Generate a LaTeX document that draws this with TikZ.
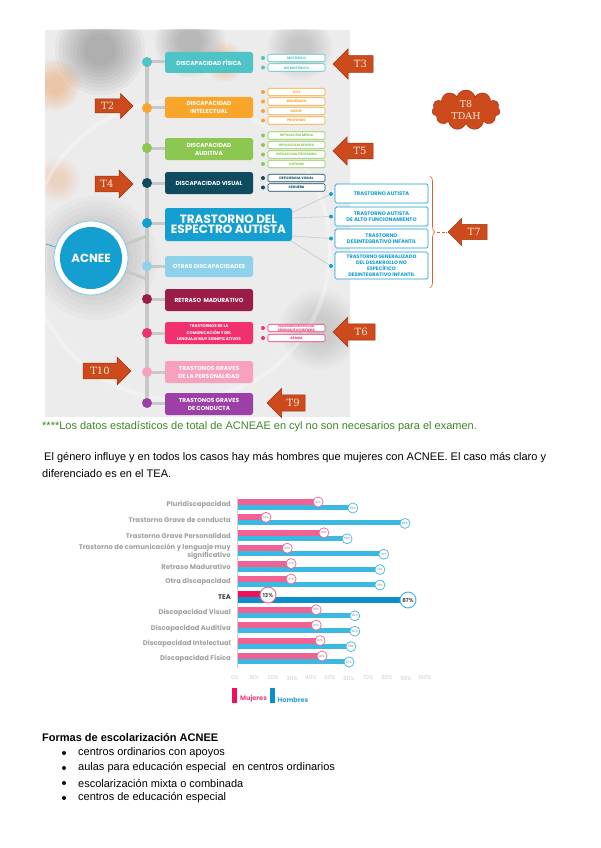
\documentclass[tikz,border=0pt]{standalone}
\usepackage{fontspec}
\setmainfont{Liberation Sans}
\newfontfamily\pop{Poppins}
\newfontfamily\slab{DejaVu Serif}
\usetikzlibrary{shapes.symbols,decorations.pathreplacing}
\pgfdeclarelayer{photo}
\pgfdeclarelayer{lines}
\pgfsetlayers{photo,lines,main}
\definecolor{bgphoto}{RGB}{236,236,236}
\definecolor{blobdark}{RGB}{60,60,60}
\definecolor{bloborange}{RGB}{235,130,40}
\definecolor{cF}{RGB}{78,196,198}
\definecolor{cI}{RGB}{248,165,42}
\definecolor{cA}{RGB}{140,199,81}
\definecolor{cV}{RGB}{14,75,95}
\definecolor{cT}{RGB}{21,158,208}
\definecolor{cO}{RGB}{142,209,234}
\definecolor{cR}{RGB}{155,29,71}
\definecolor{cC}{RGB}{242,48,109}
\definecolor{cP}{RGB}{247,161,191}
\definecolor{cK}{RGB}{156,63,166}
\definecolor{linegray}{RGB}{200,200,200}
\definecolor{callfill}{RGB}{204,74,27}
\definecolor{calledge}{RGB}{160,50,15}
\definecolor{calltext}{RGB}{250,235,215}
\definecolor{braceor}{RGB}{226,92,45}
\definecolor{mypink}{RGB}{240,98,146}
\definecolor{myblue}{RGB}{59,185,227}
\definecolor{teapink}{RGB}{240,16,90}
\definecolor{teablue}{RGB}{10,143,200}
\definecolor{labgray}{RGB}{160,160,160}
\definecolor{notegreen}{RGB}{60,135,40}
\tikzset{
  mbox/.style={rounded corners=2.5pt, minimum width=88pt, inner sep=0pt, text=white, align=center,
    font=\pop\bfseries\fontsize{5.8}{8}\selectfont},
  dot/.style={circle, inner sep=0pt, minimum size=10pt},
  subdot/.style={circle, inner sep=0pt, minimum size=4pt},
  subbox/.style={rounded corners=1.2pt, fill=white, line width=0.6pt, minimum width=57pt, minimum height=7.5pt,
    inner sep=0pt, align=center, font=\pop\bfseries\fontsize{3.4}{3.8}\selectfont},
  teabox/.style={rounded corners=1.5pt, fill=white, draw=cT, line width=0.7pt, minimum width=93pt,
    inner sep=0pt, align=center, text=cT, font=\pop\bfseries\fontsize{5.2}{6.3}\selectfont},
  conn/.style={linegray, line width=3pt},
  timeline/.style={linegray, line width=3.5pt},
  thinconn/.style={linegray, line width=0.6pt},
  callout/.style={fill=callfill, draw=calledge, line width=0.5pt},
  calltxt/.style={text=calltext, font=\slab\fontsize{10}{11}\selectfont, inner sep=0pt},
  pcirc/.style={circle, draw=mypink, fill=white, line width=0.7pt, minimum size=10pt, inner sep=0pt,
    text=gray, font=\pop\fontsize{3}{3}\selectfont},
  bcirc/.style={circle, draw=myblue, fill=white, line width=0.7pt, minimum size=10pt, inner sep=0pt,
    text=gray, font=\pop\fontsize{3}{3}\selectfont},
  clabel/.style={text=labgray, align=right, inner sep=0pt, font=\pop\bfseries\fontsize{6.8}{7.8}\selectfont},
  axlab/.style={text=gray!40, inner sep=0pt, font=\pop\fontsize{5.5}{6}\selectfont},
  body/.style={inner sep=0pt, anchor=west, font=\fontsize{11}{13}\selectfont}
}
\newcommand\rcall[6]{%
  \pgfmathsetmacro\hb{#5*0.28}\pgfmathsetmacro\hh{#5*0.5}\pgfmathsetmacro\xh{#3-#5*0.5}%
  \filldraw[callout] (#2,#4-\hb) -- (\xh,#4-\hb) -- (\xh,#4-\hh) -- (#3,#4) -- (\xh,#4+\hh) -- (\xh,#4+\hb) -- (#2,#4+\hb) -- cycle;
  \node[calltxt] (#1) at ({(#2+\xh)/2},#4) {#6};}
\newcommand\lcall[6]{%
  \pgfmathsetmacro\hb{#5*0.28}\pgfmathsetmacro\hh{#5*0.5}\pgfmathsetmacro\xh{#2+#5*0.5}%
  \filldraw[callout] (#3,#4-\hb) -- (\xh,#4-\hb) -- (\xh,#4-\hh) -- (#2,#4) -- (\xh,#4+\hh) -- (\xh,#4+\hb) -- (#3,#4+\hb) -- cycle;
  \node[calltxt] (#1) at ({(#3+\xh)/2},#4) {#6};}
\newcommand\subbx[4]{%
  \node[subdot, fill=#2] (#1d) at (263,#3) {};
  \node[subbox, draw=#2, text=#2] (#1) at (296.5,#3) {#4};}
% soft blob: x, y, radius, colour, opacity per layer
\newcommand\blob[5]{%
  \foreach \s in {1,0.92,0.84,0.76,0.68,0.6,0.52,0.44,0.36}{\fill[#4, opacity=#5] (#1,#2) circle ({#3*\s});}}
\begin{document}
\begin{tikzpicture}[x=1pt,y=-1pt]
\useasboundingbox (0,0) rectangle (600,848);

% ---------- photo background ----------
\begin{pgfonlayer}{photo}
\fill[white] (0,0) rectangle (600,848);
\begin{scope}
\clip (45,30) rectangle (350,417);
\fill[bgphoto] (45,30) rectangle (350,417);
\blob{100}{50}{45}{blobdark}{0.045}
\blob{190}{42}{35}{blobdark}{0.035}
\blob{300}{48}{32}{blobdark}{0.022}
\blob{55}{85}{26}{bloborange}{0.045}
\blob{225}{62}{20}{bloborange}{0.04}
\blob{58}{180}{22}{bloborange}{0.025}
\blob{95}{258}{62}{blobdark}{0.028}
\blob{320}{330}{40}{blobdark}{0.018}
\draw[white, line width=4pt, opacity=0.3] (180,250) circle (150);
\end{scope}
\end{pgfonlayer}

% ---------- main boxes ----------
\node[mbox, fill=cF, minimum height=21pt] (bF) at (209,62.5) {DISCAPACIDAD FÍSICA};
\node[mbox, fill=cI, minimum height=21pt] (bI) at (209,107.5) {DISCAPACIDAD\\INTELECTUAL};
\node[mbox, fill=cA, minimum height=22pt] (bA) at (209,149) {DISCAPACIDAD\\AUDITIVA};
\node[mbox, fill=cV, minimum height=22pt] (bV) at (209,183) {DISCAPACIDAD VISUAL};
\node[mbox, fill=cT, minimum width=127pt, minimum height=33pt, font=\pop\bfseries\fontsize{12}{10.5}\selectfont] (bT) at (228.5,224.5) {TRASTORNO DEL\\ESPECTRO AUTISTA};
\node[mbox, fill=cO, minimum height=21pt] (bO) at (209,266.5) {OTRAS DISCAPACIDADES};
\node[mbox, fill=cR, minimum height=22pt] (bR) at (209,300) {RETRASO \ MADURATIVO};
\node[mbox, fill=cC, minimum height=22pt, font=\pop\bfseries\fontsize{4}{6.5}\selectfont] (bC) at (209,333) {TRASTORNOS DE LA\\COMUNICACIÓN Y DEL\\LENGUAJE MUY SIGNIFICATIVOS};
\node[mbox, fill=cP, minimum height=22pt] (bP) at (209,372) {TRASTONOS GRAVES\\DE LA PERSONALIDAD};
\node[mbox, fill=cK, minimum height=22pt] (bK) at (209,404) {TRASTONOS GRAVES\\DE CONDUCTA};

% ---------- timeline dots ----------
\node[dot, fill=cF] (dF) at (147,62) {};
\node[dot, fill=cI] (dI) at (147,108) {};
\node[dot, fill=cA] (dA) at (147,148) {};
\node[dot, fill=cV] (dV) at (147,183) {};
\node[dot, fill=cT] (dT) at (147,223) {};
\node[dot, fill=cO] (dO) at (147,266) {};
\node[dot, fill=cR] (dR) at (147,299) {};
\node[dot, fill=cC] (dC) at (147,333) {};
\node[dot, fill=cP] (dP) at (147,372) {};
\node[dot, fill=cK] (dK) at (147,403) {};

% ---------- ACNEE ----------
\node[circle, fill=white, draw=cT!55, line width=0.8pt, minimum size=74pt, inner sep=0pt] (ring) at (91,258) {};
\node[circle, fill=cT, minimum size=62pt, inner sep=0pt, text=white, font=\pop\bfseries\fontsize{11.8}{12}\selectfont] (acnee) at (91,258) {ACNEE};
\coordinate (j1) at (147,236);
\coordinate (j2) at (147,279);
\coordinate (lf) at (46,244);

% ---------- sub items ----------
\subbx{sF1}{cF}{58}{MOTÓRICO}
\subbx{sF2}{cF}{67.5}{NO MOTÓRICO}
\subbx{sI1}{cI}{92}{LEVE}
\subbx{sI2}{cI}{101.5}{MODERADO}
\subbx{sI3}{cI}{111}{GRAVE}
\subbx{sI4}{cI}{120.5}{PROFUNDO}
\subbx{sA1}{cA}{135.5}{HIPOACUSIA MEDIA}
\subbx{sA2}{cA}{145}{HIPOACUSIA SEVERA}
\subbx{sA3}{cA}{154.5}{HIPOACUSIA PROFUNDA}
\subbx{sA4}{cA}{164}{COFOSIS}
\subbx{sV1}{cV}{178}{DEFICIENCIA VISUAL}
\subbx{sV2}{cV}{187.5}{CEGUERA}
\subbx{sC1}{cC}{328}{\fontsize{2.6}{2.9}\selectfont TRASTORNO ESPECÍFICO DEL\\LENGUAJE O DISFASIA}
\subbx{sC2}{cC}{338}{AFASIA}

% ---------- TEA sub items ----------
\node[teabox, minimum height=19pt] (ta1) at (381.5,193.5) {TRASTORNO AUTISTA};
\node[teabox, minimum height=19pt] (ta2) at (381.5,216.5) {TRASTORNO AUTISTA\\DE ALTO FUNCIONAMIENTO};
\node[teabox, minimum height=19pt] (ta3) at (381.5,238.5) {TRASTORNO\\DESINTEGRATIVO INFANTIL};
\node[teabox, minimum height=27pt, font=\pop\bfseries\fontsize{5}{6.1}\selectfont] (ta4) at (381.5,265.5) {TRASTORNO GENERALIZADO\\DEL DESARROLLO NO\\ESPECÍFICO\\DESINTEGRATIVO INFANTIL};
\node[subdot, fill=cT] (td1) at (331,194) {};
\node[subdot, fill=cT] (td2) at (331,216.5) {};
\node[subdot, fill=cT] (td3) at (331,238.5) {};
\node[subdot, fill=cT] (td4) at (331,266) {};
\coordinate (te1) at (291,213);
\coordinate (te2) at (291,218);
\coordinate (te3) at (291,236);
\coordinate (te4) at (291,241);

% ---------- connectors ----------
\begin{pgfonlayer}{lines}
\draw[timeline] (dF.center) -- (dK.center);
\foreach \d/\b in {dF/bF,dI/bI,dA/bA,dV/bV,dT/bT,dO/bO,dR/bR,dC/bC,dP/bP,dK/bK}
  \draw[conn] (\d.center) -- (\d.center -| \b.west);
\draw[conn] (acnee.center) -- (j1);
\draw[conn] (acnee.center) -- (j2);
\draw[cT, line width=0.6pt] (lf) -- (acnee.center);
\draw[thinconn] (te1) -- (td1.center);
\draw[thinconn] (te2) -- (td2.center);
\draw[thinconn] (te3) -- (td3.center);
\draw[thinconn] (te4) -- (td4.center);
\end{pgfonlayer}

% ---------- brace ----------
\draw[braceor, line width=0.6pt, decorate, decoration={brace, amplitude=5pt}] (430,176) -- (430,288);
\coordinate (bt) at (437,232);
\coordinate (bt2) at (447,232);
\draw[braceor, line width=0.6pt, dash pattern=on 3pt off 1.5pt] (bt) -- (bt2);

% ---------- callouts ----------
\rcall{T2}{95}{133}{106}{25}{T2}
\rcall{T4}{95}{133}{184}{28}{T4}
\rcall{T10}{83}{131}{371}{28}{T10}
\lcall{T3}{333}{373}{64}{30}{T3}
\lcall{T5}{333}{373}{151}{28}{T5}
\lcall{T6}{333}{375}{332}{29}{T6}
\lcall{T7}{448}{487}{232}{27}{T7}
\lcall{T9}{267}{305}{403}{29}{T9}
\node[cloud, cloud puffs=11, aspect=1.7, fill=callfill, draw=calledge, line width=0.5pt,
  minimum width=68pt, minimum height=40pt, inner sep=0pt, align=center, text=calltext,
  font=\slab\fontsize{9.5}{12}\selectfont] (T8) at (466,110) {T8\\TDAH};

% ---------- text ----------
\node[body, text=notegreen] (note) at (42,427) {****Los datos estadísticos de total de ACNEAE en cyl no son necesarios para el examen.};
\node[body] (p1) at (44,458) {El género influye y en todos los casos hay más hombres que mujeres con ACNEE. El caso más claro y};
\node[body] (p2) at (42,474) {diferenciado es en el TEA.};

% ---------- chart ----------
\coordinate (ax0) at (237,497);
\coordinate (ax1) at (237,668);
\draw[gray!40, line width=0.5pt] (ax0) -- (ax1);
\foreach \i/\lab/\p/\h in {1/Pluridiscapacidad/41/59, 2/Trastorno Grave de conducta/14/86,
  3/Trastorno Grave Personalidad/44/56, 4/{Trastorno de comunicación y lenguaje muy\\significativo}/25/75,
  5/Retraso Madurativo/27/73, 6/Otra discapacidad/27/73, 8/Discapacidad Visual/40/60,
  9/Discapacidad Auditiva/40/60, 10/Discapacidad Intelectual/42/58, 11/Discapacidad Física/43/57}{
  \pgfmathsetmacro\yy{505+15.4*(\i-1)}
  \pgfmathsetmacro\xp{239+1.93*\p}
  \pgfmathsetmacro\xh{239+1.93*\h}
  \fill[mypink] (238,\yy-6) rectangle (\xp,\yy);
  \fill[myblue] (238,\yy) rectangle (\xh,\yy+5);
  \node[pcirc] (pc\i) at (\xp,\yy-3) {\p\%};
  \node[bcirc] (bc\i) at (\xh,\yy+3) {\h\%};
  \node[clabel, anchor=east] (cl\i) at (231,\yy) {\lab};
}
% TEA row
\fill[teapink] (238,591.4) rectangle (262,597.4);
\fill[teablue] (238,597.4) rectangle (406,603);
\node[pcirc, minimum size=16pt, line width=0.9pt, text=black!70, font=\pop\bfseries\fontsize{5.5}{6}\selectfont] (pc7) at (268,595) {13\%};
\node[bcirc, minimum size=16pt, line width=0.9pt, text=black!70, font=\pop\bfseries\fontsize{5.5}{6}\selectfont] (bc7) at (408,600) {87\%};
\node[clabel, anchor=east, text=black!75] (cl7) at (231,597.4) {TEA};
% axis labels
\foreach \k in {0,...,10}{
  \pgfmathtruncatemacro\pc{10*\k}
  \node[axlab] (axl\k) at (235+19*\k,678) {\pc\%};
}
% legend
\node[fill=teapink, minimum width=5pt, minimum height=15pt, inner sep=0pt] (lgp) at (234.5,695.5) {};
\node[anchor=south west, inner sep=0pt, text=teapink!80, font=\pop\bfseries\fontsize{6.5}{7}\selectfont] (lgpt) at (240,702.5) {Mujeres};
\node[fill=teablue, minimum width=5pt, minimum height=15pt, inner sep=0pt] (lgb) at (272,695.5) {};
\node[anchor=south west, inner sep=0pt, text=teablue!85, font=\pop\bfseries\fontsize{6.5}{7}\selectfont] (lgbt) at (277.5,702.5) {Hombres};

% ---------- formas ----------
\node[body, font=\bfseries\fontsize{11}{13}\selectfont] (fh) at (42,738) {Formas de escolarización ACNEE};
\foreach \j/\t in {1/centros ordinarios con apoyos, 2/aulas para educación especial \ en centros ordinarios,
  3/escolarización mixta o combinada, 4/centros de educación especial}{
  \node[circle, fill=black, inner sep=0pt, minimum size=4pt] (bu\j) at (64,738+15*\j) {};
  \node[body] (it\j) at (78,738+15*\j) {\t};
}
\end{tikzpicture}
\end{document}
